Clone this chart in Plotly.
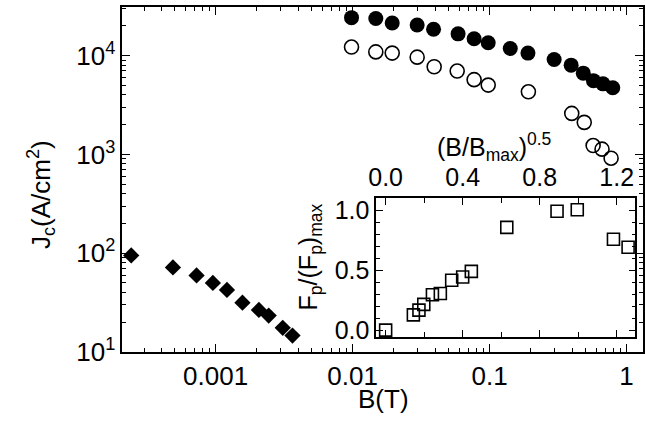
import plotly.graph_objects as go

# ---- data ----
B_filled = [0.00982, 0.01477, 0.01946, 0.0296, 0.039, 0.0589, 0.0771, 0.0977,
            0.1416, 0.1906, 0.296, 0.394, 0.483, 0.573, 0.673, 0.793]
Jc_filled = [24200, 23700, 21400, 20400, 18500, 16600, 14800, 13500,
             11800, 10600, 9140, 8000, 6640, 5580, 5180, 4730]

B_open = [0.00982, 0.01477, 0.01946, 0.0296, 0.0394, 0.058, 0.0771, 0.0977,
          0.192, 0.398, 0.491, 0.570, 0.662, 0.771]
Jc_open = [12200, 10900, 10600, 9640, 7710, 6980, 5710, 5030,
           4300, 2600, 2110, 1230, 1130, 915]

B_diam = [2.42e-4, 4.88e-4, 7.26e-4, 9.55e-4, 1.21e-3, 1.57e-3, 2.07e-3,
          2.44e-3, 3.09e-3, 3.64e-3]
Jc_diam = [95, 71.8, 59.6, 50.1, 42.5, 31.6, 26.7, 23.4, 17.6, 14.7]

inset_x = [0.0, 0.144, 0.173, 0.198, 0.243, 0.284, 0.343, 0.40, 0.445,
           0.629, 0.89, 0.995, 1.183, 1.259]
inset_y = [0.0, 0.127, 0.167, 0.215, 0.296, 0.306, 0.417, 0.444, 0.492,
           0.86, 0.995, 1.008, 0.761, 0.694]

x_major = [0.001, 0.01, 0.1, 1]
x_major_text = ["0.001", "0.01", "0.1", "1"]
y_major = [10, 100, 1000, 10000]
y_major_text = ["10<sup>1</sup>", "10<sup>2</sup>", "10<sup>3</sup>", "10<sup>4</sup>"]
inset_x_ticks = [0.0, 0.4, 0.8, 1.2]
inset_x_text = ["0.0", "0.4", "0.8", "1.2"]
inset_y_ticks = [0.0, 0.5, 1.0]
inset_y_text = ["0.0", "0.5", "1.0"]

W, H = 645, 434
FONT = "Liberation Sans, Arial, sans-serif"

def px_x(p):
    return p / W

def px_y(p):
    return 1 - p / H

minor_x = [m * 10.0 ** e for e in range(-4, 1) for m in range(2, 10)]
minor_y = [m * 10.0 ** e for e in range(1, 5) for m in range(2, 10)]

fig = go.Figure()
fig.add_trace(go.Scatter(x=B_filled, y=Jc_filled, mode="markers",
                         marker=dict(symbol="circle", size=15, color="black"),
                         xaxis="x", yaxis="y"))
fig.add_trace(go.Scatter(x=B_open, y=Jc_open, mode="markers",
                         marker=dict(symbol="circle-open", size=14, color="black",
                                     line=dict(width=1.6, color="black")),
                         xaxis="x", yaxis="y"))
fig.add_trace(go.Scatter(x=B_diam, y=Jc_diam, mode="markers",
                         marker=dict(symbol="diamond", size=12.5, color="black"),
                         xaxis="x", yaxis="y"))
fig.add_trace(go.Scatter(x=inset_x, y=inset_y, mode="markers",
                         marker=dict(symbol="square-open", size=12, color="black",
                                     line=dict(width=1.6, color="black")),
                         xaxis="x2", yaxis="y2"))

axis_common = dict(showline=True, linecolor="black", linewidth=1.5,
                   ticks="inside", tickcolor="black", tickwidth=1.2,
                   mirror="ticks", showgrid=False, zeroline=False,
                   tickfont=dict(family=FONT, size=26, color="black"))

fig.update_layout(
    width=W, height=H,
    margin=dict(l=0, r=0, t=0, b=0),
    paper_bgcolor="white", plot_bgcolor="white",
    showlegend=False,
    font=dict(family=FONT, color="black"),
    xaxis=dict(type="log", range=[-3.682, 0.12],
               domain=[px_x(116), 1.0], anchor="y",
               tickvals=x_major, ticktext=x_major_text, ticklen=8,
               minor=dict(tickvals=minor_x, ticks="inside", ticklen=4,
                          tickcolor="black", tickwidth=1, showgrid=False),
               **axis_common),
    yaxis=dict(type="log", range=[1.0, 4.494],
               domain=[px_y(364.5), px_y(6)], anchor="x",
               tickvals=y_major, ticktext=y_major_text, ticklen=8,
               minor=dict(tickvals=minor_y, ticks="inside", ticklen=4,
                          tickcolor="black", tickwidth=1, showgrid=False),
               **axis_common),
    xaxis2=dict(range=[-0.049, 1.297], side="top",
                domain=[px_x(374), px_x(637.3)], anchor="y2",
                tickvals=inset_x_ticks, ticktext=inset_x_text, ticklen=7,
                minor=dict(dtick=0.2, tick0=0, ticks="inside", ticklen=5,
                           tickcolor="black", tickwidth=1, showgrid=False),
                **{**axis_common, "tickfont": dict(family=FONT, size=25, color="black")}),
    yaxis2=dict(range=[-0.059, 1.108],
                domain=[px_y(349), px_y(204.3)], anchor="x2",
                tickvals=inset_y_ticks, ticktext=inset_y_text, ticklen=7,
                minor=dict(dtick=0.1, tick0=0, ticks="inside", ticklen=4,
                           tickcolor="black", tickwidth=1, showgrid=False),
                **{**axis_common, "tickfont": dict(family=FONT, size=25, color="black")}),
)

annots = [
    dict(text="J<sub>c</sub>(A/cm<sup>2</sup>)", x=px_x(33), y=px_y(201),
         textangle=-90, size=26),
    dict(text="B(T)", x=px_x(381), y=px_y(413), textangle=0, size=26),
    dict(text="F<sub>p</sub>/(F<sub>p</sub>)<sub>max</sub>", x=px_x(307), y=px_y(266),
         textangle=-90, size=25),
    dict(text="(B/B<sub>max</sub>)<sup>0.5</sup>", x=px_x(494), y=px_y(152),
         textangle=0, size=25),
]
for a in annots:
    fig.add_annotation(text=a["text"], x=a["x"], y=a["y"], xref="paper", yref="paper",
                       xanchor="center", yanchor="middle", showarrow=False,
                       textangle=a["textangle"],
                       font=dict(family=FONT, size=a["size"], color="black"))

fig.write_html("out.html",
               config={"displayModeBar": False},
               post_script="document.body.style.margin='0px';"
                           "document.body.style.overflow='hidden';")
